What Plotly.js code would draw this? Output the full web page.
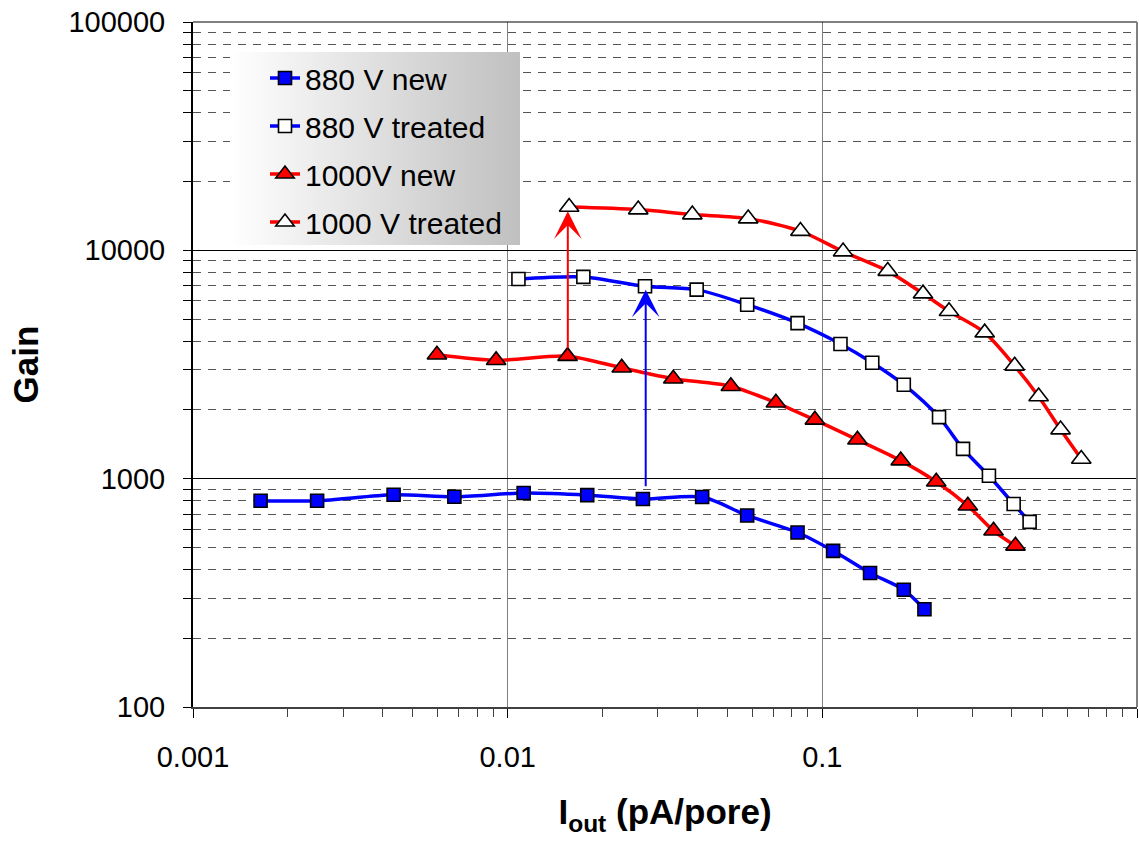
<!DOCTYPE html>
<html>
<head>
<meta charset="utf-8">
<script src="https://cdn.plot.ly/plotly-3.0.1.min.js"></script>
<style>
  html, body { margin: 0; padding: 0; background: #ffffff; }
  #chart { width: 1139px; height: 842px; }
</style>
</head>
<body>
<div id="chart"></div>
<script>
// ---- Data ----
const seriesNames = ['880 V new', '880 V treated', '1000V new', '1000 V treated'];

const iout880New   = [0.00164, 0.00248, 0.00434, 0.00677, 0.01124, 0.0179, 0.0269, 0.0415, 0.0577, 0.0834, 0.1082, 0.1418, 0.1815, 0.2111];
const gain880New   = [800, 800, 850, 833, 865, 847, 814, 831, 690, 581, 483, 386, 326, 268];

const iout880Trt   = [0.01082, 0.0174, 0.02732, 0.03987, 0.0577, 0.0834, 0.1142, 0.1441, 0.1815, 0.2349, 0.280, 0.3384, 0.4055, 0.4557];
const gain880Trt   = [7490, 7650, 6960, 6730, 5780, 4800, 3890, 3220, 2580, 1860, 1350, 1030, 774, 647];

const iout1000New  = [0.00596, 0.00919, 0.0155, 0.02304, 0.0336, 0.0512, 0.0712, 0.0947, 0.1293, 0.1775, 0.2301, 0.290, 0.350, 0.411];
const gain1000New  = [3490, 3300, 3440, 3060, 2740, 2540, 2150, 1810, 1480, 1200, 970, 761, 591, 508];

const iout1000Trt  = [0.01568, 0.0260, 0.03862, 0.05813, 0.0852, 0.1164, 0.1614, 0.2089, 0.2527, 0.3281, 0.4085, 0.4868, 0.5716, 0.6651];
const gain1000Trt  = [15470, 15080, 14340, 13770, 12140, 9870, 8110, 6460, 5410, 4360, 3120, 2290, 1640, 1220];

// arrows: x position, gain at tail, gain at tip
const arrowX     = [0.01553, 0.02746];
const arrowFrom  = [3672, 913];
const arrowTo    = [14824, 6727];
const arrowColor = ['#ff0000', '#0000ff'];

// tick labels
const xTickVals = [0.001, 0.01, 0.1, 1];
const xTickText = ['0.001', '0.01', '0.1', '1'];
const yTickVals = [100, 1000, 10000, 100000];
const yTickText = ['100', '1000', '10000', '100000'];

// ---- Styling ----
const FONT = 'Liberation Sans, Arial, Helvetica, sans-serif';

function minorVals(lo, hi) {
  const v = [];
  for (let e = lo; e < hi; e++) {
    for (let m = 2; m <= 9; m++) v.push(m * Math.pow(10, e));
  }
  return v;
}

const lineW = 3.5;
const traces = [
  {
    x: iout880New, y: gain880New, name: seriesNames[0], legendgroup: 'a', type: 'scatter', mode: 'lines+markers',
    line: { color: '#0000ff', width: lineW, shape: 'spline', smoothing: 0.8 },
    marker: { symbol: 'square', size: 13, color: '#0000ff', line: { color: '#000000', width: 1.6 } }
  },
  {
    x: iout880Trt, y: gain880Trt, name: seriesNames[1], legendgroup: 'b', type: 'scatter', mode: 'lines+markers',
    line: { color: '#0000ff', width: lineW, shape: 'spline', smoothing: 0.8 },
    marker: { symbol: 'square', size: 13, color: '#ffffff', line: { color: '#000000', width: 1.6 } }
  },
  {
    x: iout1000New, y: gain1000New, name: seriesNames[2], legendgroup: 'c', type: 'scatter', mode: 'lines+markers',
    line: { color: '#ff0000', width: lineW, shape: 'spline', smoothing: 0.8 },
    marker: { symbol: 'triangle-up', size: 17, color: '#ff0000', line: { color: '#000000', width: 1.6 } }
  },
  {
    x: iout1000Trt, y: gain1000Trt, name: seriesNames[3], legendgroup: 'd', type: 'scatter', mode: 'lines+markers',
    line: { color: '#ff0000', width: lineW, shape: 'spline', smoothing: 0.8 },
    marker: { symbol: 'triangle-up', size: 17, color: '#ffffff', line: { color: '#000000', width: 1.6 } }
  }
];

const annotations = arrowX.map((xv, i) => ({
  x: Math.log10(xv), y: Math.log10(arrowTo[i]),
  ax: Math.log10(xv), ay: Math.log10(arrowFrom[i]),
  xref: 'x', yref: 'y', axref: 'x', ayref: 'y',
  text: '', showarrow: true, arrowhead: 3, arrowsize: 2.3, arrowwidth: 2,
  arrowcolor: arrowColor[i], standoff: 0, startstandoff: 0
}));

const gradSvg = "<svg xmlns='http://www.w3.org/2000/svg' width='290' height='193' viewBox='0 0 290 193' preserveAspectRatio='none'>" +
  "<defs><linearGradient id='g' x1='0' x2='1' y1='0' y2='0'>" +
  "<stop offset='0' stop-color='#ffffff'/><stop offset='1' stop-color='#c0c0c0'/>" +
  "</linearGradient></defs><rect x='0' y='0' width='290' height='193' fill='url(#g)'/></svg>";
const gradSrc = 'data:image/svg+xml;base64,' + btoa(gradSvg);

const L = 193, R = 2, T = 22, B = 135;
const W = 1139, H = 842;
const pw = W - L - R, ph = H - T - B;

const layout = {
  width: W, height: H,
  margin: { l: L, r: R, t: T, b: B, pad: 0 },
  paper_bgcolor: '#ffffff', plot_bgcolor: '#ffffff',
  showlegend: true,
  font: { family: FONT, color: '#000000' },
  xaxis: {
    type: 'log', range: [-3, 0], autorange: false,
    tickmode: 'array', tickvals: xTickVals, ticktext: xTickText,
    ticks: 'outside', ticklen: 9, tickwidth: 1, tickcolor: '#000000',
    ticklabelstandoff: 14,
    tickfont: { family: FONT, size: 29, color: '#000000' },
    showgrid: true, gridcolor: '#808080', gridwidth: 1.5,
    showline: true, linecolor: '#404040', linewidth: 2,
    zeroline: false,
    minor: { tickmode: 'array', tickvals: minorVals(-3, 0), ticks: 'outside', ticklen: 8, tickwidth: 1, tickcolor: '#404040', showgrid: false },
    title: { text: '<b>I<sub>out</sub> (pA/pore)</b>', font: { family: FONT, size: 35, color: '#000000' }, standoff: 28 },
    automargin: false
  },
  yaxis: {
    type: 'log', range: [2, 5], autorange: false,
    tickmode: 'array', tickvals: yTickVals, ticktext: yTickText,
    ticks: 'outside', ticklen: 8, tickwidth: 1, tickcolor: '#000000',
    ticklabelstandoff: 12,
    tickfont: { family: FONT, size: 29, color: '#000000' },
    showgrid: true, gridcolor: '#000000', gridwidth: 1,
    showline: true, linecolor: '#000000', linewidth: 2,
    zeroline: false,
    minor: { tickmode: 'array', tickvals: minorVals(2, 5), ticks: 'outside', ticklen: 8, tickwidth: 1, tickcolor: '#000000',
             showgrid: true, gridcolor: '#555555', gridwidth: 1, griddash: '8px,7px' },
    title: { text: '<b>Gain</b>', font: { family: FONT, size: 35, color: '#000000' }, standoff: 19 },
    automargin: false
  },
  legend: {
    x: (265 - L) / pw, y: 1 - (52 - T) / ph, xanchor: 'left', yanchor: 'top',
    bgcolor: 'rgba(0,0,0,0)', borderwidth: 0,
    font: { family: FONT, size: 30, color: '#000000' },
    traceorder: 'grouped', tracegroupgap: 6
  },
  images: [{
    source: gradSrc, xref: 'paper', yref: 'paper',
    x: (230 - L) / pw, y: 1 - (52 - T) / ph, sizex: 290 / pw, sizey: 193 / ph,
    xanchor: 'left', yanchor: 'top', sizing: 'stretch', layer: 'above'
  }],
  shapes: [
    { type: 'line', xref: 'paper', yref: 'paper', x0: 0, x1: 1, y0: 1, y1: 1, line: { color: '#000000', width: 1 } },
    { type: 'line', xref: 'paper', yref: 'paper', x0: 1, x1: 1, y0: 0, y1: 1, line: { color: '#808080', width: 2 } }
  ],
  annotations: annotations
};

Plotly.newPlot('chart', traces, layout, { displayModeBar: false, staticPlot: true });
</script>
</body>
</html>
